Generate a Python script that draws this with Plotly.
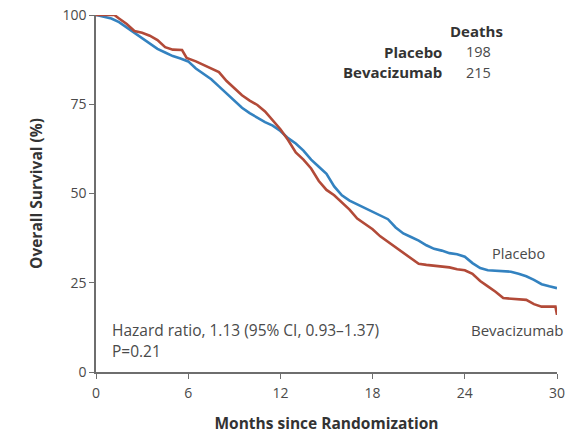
import plotly.graph_objects as go

months_placebo = [0, 0.5, 1, 1.5, 2, 2.5, 3, 3.5, 4, 4.5, 5, 5.5, 6, 6.5, 7, 7.5, 8, 8.5, 9, 9.5,
                  10, 10.5, 11, 11.5, 12, 12.5, 13, 13.5, 14, 14.5, 15, 15.5, 16, 16.5, 17, 17.5,
                  18, 18.5, 19, 19.5, 20, 20.5, 21, 21.5, 22, 22.5, 23, 23.5, 24, 24.5, 25, 25.5,
                  26, 26.5, 27, 27.5, 28, 28.5, 29, 29.5, 30]
surv_placebo = [100, 99.5, 99, 98, 96.5, 95, 93.5, 92, 90.5, 89.5, 88.5, 87.8, 87, 85, 83.5, 82,
                80, 78, 76, 74, 72.5, 71.2, 70, 69, 67.5, 65.5, 64, 62, 59.5, 57.5, 55.5, 52, 49.5,
                48, 47, 46, 45, 44, 42.8, 40.5, 38.8, 37.8, 36.8, 35.5, 34.5, 34, 33.3, 33, 32.3,
                30.5, 29.1, 28.5, 28.3, 28.2, 28.1, 27.5, 26.8, 25.8, 24.6, 24, 23.5]

months_bev = [0, 1.2, 1.5, 2, 2.5, 3, 3.5, 4, 4.5, 5, 5.6, 5.9, 6.5, 7, 7.5, 8, 8.5, 9, 9.5, 10,
              10.5, 11, 11.5, 12, 12.5, 13, 13.5, 14, 14.5, 15, 15.5, 16, 16.5, 17, 17.5, 18,
              18.5, 19, 19.5, 20, 20.5, 21, 21.5, 22, 22.5, 23, 23.5, 24, 24.5, 25, 25.5, 26,
              26.5, 27, 27.5, 28, 28.5, 29, 29.5, 29.9, 30]
surv_bev = [100, 100, 99, 97.5, 95.5, 95, 94.2, 93, 91, 90.3, 90.2, 88, 87, 86, 85, 84, 81.5,
            79.5, 77.5, 76, 74.8, 73, 70.5, 68, 65, 61.5, 59.5, 57, 53.5, 51, 49.5, 47.5, 45.5,
            43, 41.5, 40, 38, 36.5, 35, 33.5, 32, 30.3, 30, 29.8, 29.5, 29.3, 28.8, 28.5, 27.5,
            25.5, 24, 22.5, 20.7, 20.5, 20.4, 20.2, 19, 18.3, 18.3, 18.3, 16]

x_ticks = [0, 6, 12, 18, 24, 30]
y_ticks = [0, 25, 50, 75, 100]

BLUE = "#3382c0"
RED = "#b24a38"
AXIS = "#6e6e6e"
TXT = "#4a4a4a"
FONT = "Open Sans"

fig = go.Figure()
fig.add_trace(go.Scatter(x=months_placebo, y=surv_placebo, mode="lines",
                         line=dict(color=BLUE, width=2.6), name="Placebo",
                         cliponaxis=False))
fig.add_trace(go.Scatter(x=months_bev, y=surv_bev, mode="lines",
                         line=dict(color=RED, width=2.6), name="Bevacizumab",
                         cliponaxis=False))

fig.update_layout(
    width=574, height=434,
    margin=dict(l=96, r=17, t=15, b=62),
    paper_bgcolor="white", plot_bgcolor="white",
    showlegend=False,
    font=dict(family=FONT, size=14, color=TXT),
    xaxis=dict(range=[0, 30], tickvals=x_ticks, ticktext=[str(v) for v in x_ticks],
               automargin=False, ticklabelstandoff=2,
               showgrid=False, zeroline=False, showline=True, linecolor=AXIS, linewidth=1.5,
               ticks="outside", ticklen=5, tickcolor=AXIS, tickwidth=1.2,
               tickfont=dict(family=FONT, size=14, color=TXT),
               title=dict(text="<b>Months since Randomization</b>",
                          font=dict(family=FONT, size=15.5, color="#333333"), standoff=20)),
    yaxis=dict(range=[0, 100], tickvals=y_ticks, ticktext=[str(v) for v in y_ticks],
               automargin=False,
               showgrid=False, zeroline=False, showline=True, linecolor=AXIS, linewidth=1.5,
               ticks="outside", ticklen=5, tickcolor=AXIS, tickwidth=1.2,
               tickfont=dict(family=FONT, size=14, color=TXT),
               title=dict(text="<b>Overall Survival (%)</b>",
                          font=dict(family=FONT, size=15.5, color="#333333"), standoff=16)),
)

def ann(text, x, y, xanchor="left", bold=False, size=15, color=TXT):
    fig.add_annotation(x=x, y=y, xref="paper", yref="paper", text=(f"<b>{text}</b>" if bold else text),
                       showarrow=False, xanchor=xanchor, yanchor="middle",
                       font=dict(family=FONT, size=size, color=color))

# plot area: px x 96..557, y 15..372 (height 357)
def px(xp):
    return (xp - 96) / 461
def py(yp):
    return (372 - yp) / 357

ann("Deaths", px(505), py(31), xanchor="right", bold=True, size=15, color="#333333")
ann("Placebo", px(444), py(52), xanchor="right", bold=True, size=15, color="#333333")
ann("Bevacizumab", px(444), py(72), xanchor="right", bold=True, size=15, color="#333333")
ann("198", px(464), py(52), xanchor="left", size=14.5)
ann("215", px(464), py(72), xanchor="left", size=14.5)
ann("Placebo", px(490), py(253), xanchor="left", size=14.5)
ann("Bevacizumab", px(469), py(330), xanchor="left", size=15)
ann("Hazard ratio, 1.13 (95% CI, 0.93\u20131.37)", px(110), py(330), xanchor="left", size=15.5)
ann("P=0.21", px(110), py(351), xanchor="left", size=15.5)

fig.write_html("out.html")
